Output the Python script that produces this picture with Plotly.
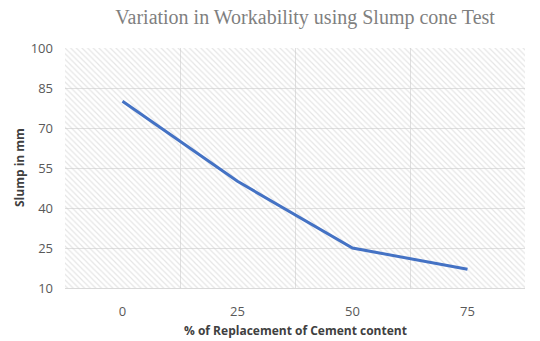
import plotly.graph_objects as go

categories = ["0", "25", "50", "75"]
slump = [80, 50, 25, 17]
y_ticks = [10, 25, 40, 55, 70, 85, 100]

title_text = "Variation in Workability using Slump cone Test"
x_title = "% of Replacement of Cement content"
y_title = "Slump in mm"

y_lo, y_hi = y_ticks[0], y_ticks[-1]

fig = go.Figure()

# hatched plot-area background (decorative, spans the full axis range)
fig.add_trace(go.Bar(
    x=categories,
    y=[y_hi - y_lo] * len(categories),
    base=[y_lo] * len(categories),
    width=1,
    marker=dict(
        color="rgba(0,0,0,0)",
        line=dict(width=0),
        pattern=dict(shape="\\", fgcolor="#cccccc", bgcolor="rgba(0,0,0,0)",
                     size=4, solidity=0.3, fillmode="overlay"),
    ),
    hoverinfo="skip",
    showlegend=False,
))

fig.add_trace(go.Scatter(
    x=categories,
    y=slump,
    mode="lines",
    line=dict(color="#4472C4", width=3),
    showlegend=False,
))

fig.update_layout(
    width=540,
    height=341,
    margin=dict(l=65, r=15, t=48, b=53, autoexpand=False),
    paper_bgcolor="white",
    plot_bgcolor="white",
    bargap=0,
    title=dict(
        text=title_text,
        x=0.565,
        xanchor="center",
        y=0.95,
        yanchor="middle",
        font=dict(family="Liberation Serif, Times New Roman, serif", size=20, color="#7f7f7f"),
    ),
    font=dict(family="Open Sans, Liberation Sans, Arial, sans-serif", color="#595959"),
    annotations=[
        dict(text="<b>" + x_title + "</b>", xref="paper", yref="paper",
             x=0.5, y=-0.178, xanchor="center", yanchor="middle", showarrow=False,
             font=dict(size=12, color="#404040")),
        dict(text="<b>" + y_title + "</b>", xref="paper", yref="paper",
             x=-0.1, y=0.5, xanchor="center", yanchor="middle", showarrow=False,
             textangle=-90, font=dict(size=12, color="#404040")),
    ],
)

fig.update_xaxes(
    type="category",
    range=[-0.5, len(categories) - 0.5],
    tickson="boundaries",
    ticks="",
    showgrid=True,
    gridcolor="#e0e0e0",
    gridwidth=1,
    showline=True,
    linecolor="#d9d9d9",
    tickfont=dict(size=13, color="#595959"),
    ticklabelstandoff=11,
    automargin=False,
)

fig.update_yaxes(
    range=[y_lo, y_hi],
    tickvals=y_ticks,
    ticks="",
    showgrid=True,
    gridcolor="#e0e0e0",
    gridwidth=1,
    zeroline=False,
    showline=False,
    tickfont=dict(size=13, color="#595959"),
    ticklabelstandoff=11,
    automargin=False,
)

fig.write_html("out.html")
